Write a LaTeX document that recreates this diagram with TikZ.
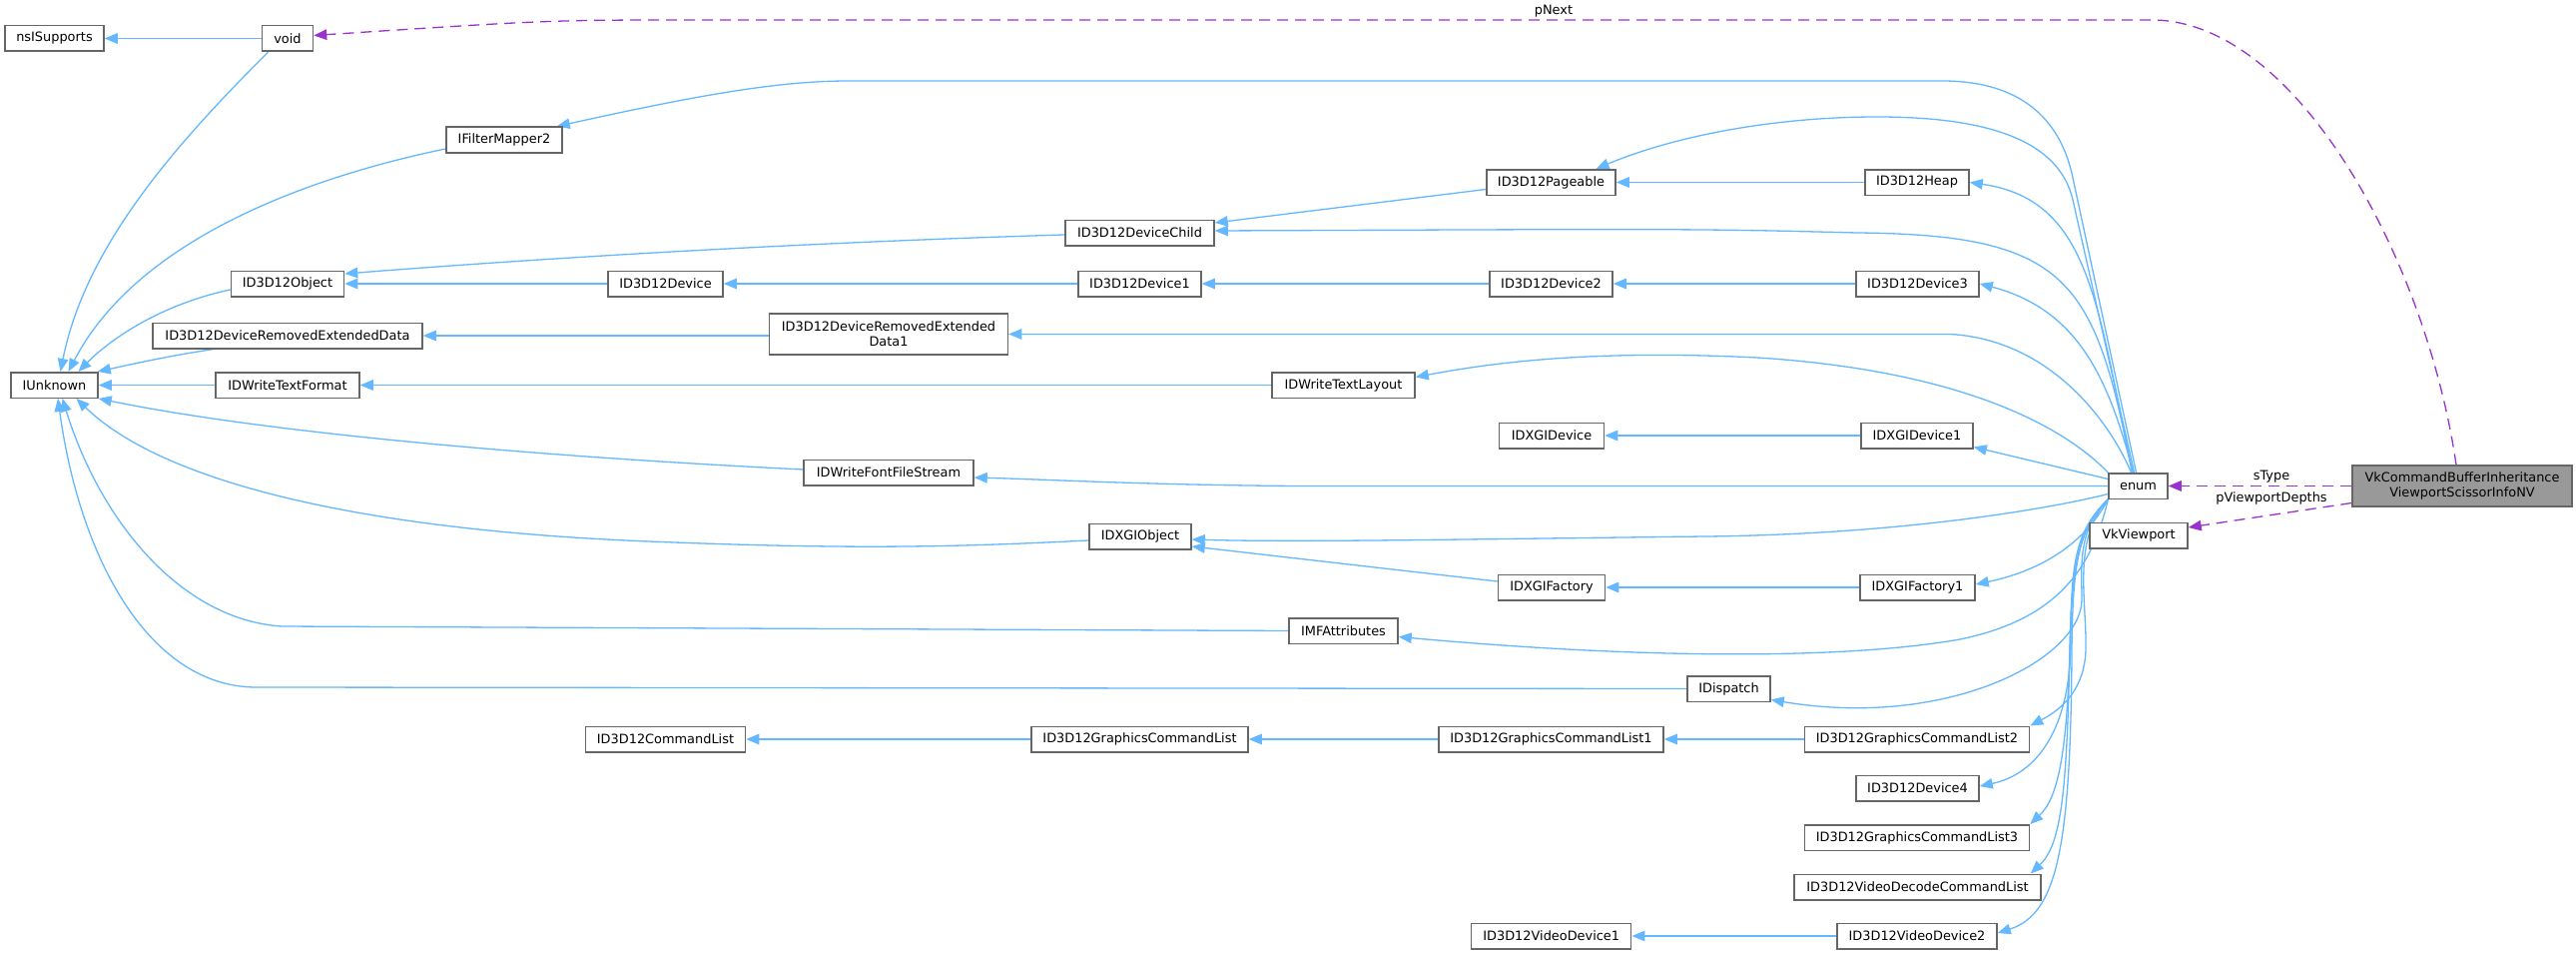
\documentclass[tikz,border=0pt]{standalone}
\usepackage{fontspec}
\setmainfont{DejaVu Sans}
\usetikzlibrary{arrows.meta,calc}
\pgfdeclarelayer{bg}
\pgfsetlayers{bg,main}
\definecolor{edgeblue}{HTML}{63B8FF}
\definecolor{edgepurple}{HTML}{9A32CD}
\definecolor{boxgray}{HTML}{666666}
\definecolor{fillgray}{HTML}{999999}
\newcommand\dxfont{\fontsize{12.9pt}{15pt}\selectfont}
\begin{document}
\begin{tikzpicture}[x=1pt,y=-1pt,
  box/.style={draw=boxgray, line width=1.5pt, fill=white, minimum height=25.5pt, inner sep=0pt, align=center, font=\dxfont},
  inh/.style={draw=edgeblue, line width=1.3pt, -{Triangle[length=13pt,width=10.5pt]}},
  mem/.style={draw=edgepurple, line width=1.3pt, dash pattern=on 11pt off 7pt, -{Triangle[length=13pt,width=10.5pt]}},
  lbl/.style={font=\dxfont, inner sep=0pt, anchor=base}
]
\useasboundingbox (0,0) rectangle (2580,955);
% nodes
\node[box, minimum width=99pt] (nsi) at (54.5,38.5) {nsISupports};
\node[box, minimum width=51pt] (void) at (288,38.5) {void};
\node[box, minimum width=116pt] (ifm) at (505,140) {IFilterMapper2};
\node[box, minimum width=113pt] (obj) at (288,284) {ID3D12Object};
\node[box, minimum width=270pt] (dred) at (288,336) {ID3D12DeviceRemovedExtendedData};
\node[box, minimum width=87pt] (iunk) at (54.5,385.5) {IUnknown};
\node[box, minimum width=144pt] (dwtf) at (288,385.5) {IDWriteTextFormat};
\node[box, minimum width=149pt] (dchild) at (1141.5,233) {ID3D12DeviceChild};
\node[box, minimum width=115pt] (dev) at (666.5,284) {ID3D12Device};
\node[box, minimum width=123pt] (dev1) at (1141.5,284) {ID3D12Device1};
\node[box, minimum width=239pt, minimum height=41pt] (dred1) at (890,334.5) {ID3D12DeviceRemovedExtended\\Data1};
\node[box, minimum width=143pt] (dwtl) at (1345.5,385.5) {IDWriteTextLayout};
\node[box, minimum width=170pt] (dwffs) at (890,473) {IDWriteFontFileStream};
\node[box, minimum width=102pt] (dxgio) at (1142,537) {IDXGIObject};
\node[box, minimum width=160pt] (cl) at (666.5,740) {ID3D12CommandList};
\node[box, minimum width=217pt] (gcl) at (1141.5,740) {ID3D12GraphicsCommandList};
\node[box, minimum width=109pt] (mfa) at (1345.5,631.5) {IMFAttributes};
\node[box, minimum width=129pt] (page) at (1553.5,182.5) {ID3D12Pageable};
\node[box, minimum width=104pt] (heap) at (1920,182.5) {ID3D12Heap};
\node[box, minimum width=123pt] (dev2) at (1553.5,284) {ID3D12Device2};
\node[box, minimum width=123pt] (dev3) at (1920.5,284) {ID3D12Device3};
\node[box, minimum width=105pt] (dxgid) at (1554,436) {IDXGIDevice};
\node[box, minimum width=112pt] (dxgid1) at (1920,436) {IDXGIDevice1};
\node[box, minimum width=107pt] (dxgif) at (1554,588) {IDXGIFactory};
\node[box, minimum width=115pt] (dxgif1) at (1920.5,588) {IDXGIFactory1};
\node[box, minimum width=83pt] (disp) at (1731.5,689.5) {IDispatch};
\node[box, minimum width=225pt] (gcl1) at (1553.5,740) {ID3D12GraphicsCommandList1};
\node[box, minimum width=225pt] (gcl2) at (1920,740) {ID3D12GraphicsCommandList2};
\node[box, minimum width=123pt] (dev4) at (1920.5,789) {ID3D12Device4};
\node[box, minimum width=225pt] (gcl3) at (1920,838.5) {ID3D12GraphicsCommandList3};
\node[box, minimum width=247pt] (vdcl) at (1920.5,888) {ID3D12VideoDecodeCommandList};
\node[box, minimum width=160pt] (vd1) at (1553.7,937) {ID3D12VideoDevice1};
\node[box, minimum width=160pt] (vd2) at (1920,937) {ID3D12VideoDevice2};
\node[box, minimum width=59pt] (enum) at (2141.5,486.5) {enum};
\node[box, minimum width=98pt] (vkv) at (2142,536) {VkViewport};
\node[box, minimum width=220pt, minimum height=41pt, fill=fillgray] (vkcb) at (2466,486.5) {VkCommandBufferInheritance\\ViewportScissorInfoNV};
% labels
\node[lbl] (lpnext) at (1556,15) {pNext};
\node[lbl] (lstype) at (2275,480.5) {sType};
\node[lbl] (lpvd) at (2275,502.5) {pViewportDepths};
\begin{pgfonlayer}{bg}
\fill[white] (0,0) rectangle (2580,955);
% inheritance to IUnknown
\draw[inh] (void.west) -- (nsi.east);
\draw[inh] ($(void.south west)+(7,0)$) .. controls (170,150) and (85,250) .. ($(iunk.north)+(6,0)$);
\draw[inh] ($(ifm.west)+(0,9)$) .. controls (320,175) and (140,235) .. ($(iunk.north)+(14,0)$);
\draw[inh] ($(obj.west)+(0,6)$) .. controls (160,305) and (110,340) .. ($(iunk.north)+(24,0)$);
\draw[inh] ($(dred.south west)+(62,0)$) .. controls (170,356) and (130,365) .. ($(iunk.north east)+(-1,0)$);
\draw[inh] (dwtf.west) -- (iunk.east);
\draw[inh] ($(dwffs.west)+(0,-3)$) .. controls (500,455) and (250,430) .. (iunk.south east);
\draw[inh] ($(dxgio.west)+(0,4)$) .. controls (950,548) and (850,550) .. (650,542) .. controls (350,530) and (160,480) .. ($(iunk.south)+(22,0)$);
\draw[inh] (mfa.west) -- (282,627) .. controls (180,620) and (100,520) .. ($(iunk.south)+(8,0)$);
\draw[inh] (disp.west) -- (257,688) .. controls (150,688) and (80,560) .. ($(iunk.south)+(3.5,0)$);
% other inheritance
\draw[inh] ($(dchild.west)+(0,2)$) .. controls (800,243) and (550,258) .. ($(obj.east)+(0,-10)$);
\draw[inh] (dev.west) -- (obj.east);
\draw[inh] (dev1.west) -- (dev.east);
\draw[inh] (dev2.west) -- (dev1.east);
\draw[inh] (dev3.west) -- (dev2.east);
\draw[inh] ($(dred1.west)+(0,1.5)$) -- (dred.east);
\draw[inh] (dwtl.west) -- (dwtf.east);
\draw[inh] ($(page.west)+(0,7)$) -- ($(dchild.east)+(0,-10)$);
\draw[inh] (heap.west) -- (page.east);
\draw[inh] (dxgid1.west) -- (dxgid.east);
\draw[inh] ($(dxgif.west)+(0,-6)$) -- ($(dxgio.east)+(0,10)$);
\draw[inh] (dxgif1.west) -- (dxgif.east);
\draw[inh] (gcl.west) -- (cl.east);
\draw[inh] (gcl1.west) -- (gcl.east);
\draw[inh] (gcl2.west) -- (gcl1.east);
\draw[inh] (vd2.west) -- (vd1.east);
% enum edges (top)
\draw[inh] ($(enum.north)+(-2,0)$) -- (2076,178) .. controls (2065,125) and (2030,82) .. (1948,81) -- (850,81) .. controls (780,81) and (700,95) .. ($(ifm.north east)+(-6,0)$);
\draw[inh] ($(enum.north)+(-4,0)$) -- (2076,200) .. controls (2062,140) and (1990,117) .. (1880,117) .. controls (1780,117) and (1680,135) .. ($(page.north)+(45,0)$);
\draw[inh] ($(enum.north)+(-6,0)$) .. controls (2100,300) and (2092,200) .. (heap.east);
\draw[inh] ($(enum.north)+(-6,0)$) .. controls (2098,280) and (2072,235) .. (1860,233) .. controls (1700,229) .. ($(dchild.east)+(0,-2)$);
\draw[inh] ($(enum.north)+(-5,0)$) .. controls (2112,380) and (2082,310) .. (dev3.east);
\draw[inh] ($(enum.north)+(-7,0)$) .. controls (2112,420) and (2052,340) .. (1953,334.5) -- (dred1.east);
\draw[inh] (enum.north west) .. controls (2060,420) and (1950,370) .. (1760,358) .. controls (1600,350) and (1500,362) .. ($(dwtl.east)+(0,-8)$);
% enum edges (left)
\draw[inh] ($(enum.west)+(0,-7)$) -- ($(dxgid1.south east)+(0,-2)$);
\draw[inh] (enum.west) -- (1300,486.5) .. controls (1150,485.5) and (1050,480) .. ($(dwffs.east)+(0,5)$);
\draw[inh] ($(enum.west)+(0,8)$) .. controls (2050,510) and (1900,535) .. (1708,537) .. controls (1450,540) and (1300,543) .. ($(dxgio.east)+(0,3)$);
% enum edges (bottom)
\draw[inh] (enum.south west) .. controls (2090,540) and (2050,570) .. ($(dxgif1.east)+(0,-3)$);
\draw[inh] (enum.south west) .. controls (2095,570) and (2060,620) .. (1963,640) .. controls (1850,660) and (1650,660) .. ($(mfa.east)+(0,6)$);
\draw[inh] (enum.south west) .. controls (2080,530) and (2085,570) .. (2085,600) .. controls (2085,660) and (1950,730) .. ($(disp.east)+(0,11)$);
\draw[inh] (enum.south west) .. controls (2075,540) and (2090,600) .. (2089,650) .. controls (2088,690) and (2065,710) .. (gcl2.north east);
\draw[inh] (enum.south west) .. controls (2080,530) and (2074,560) .. (2074,640) .. controls (2074,730) and (2040,775) .. ($(dev4.east)+(0,-2)$);
\draw[inh] (enum.south west) .. controls (2080,530) and (2075,570) .. (2073,650) .. controls (2070,760) and (2060,800) .. (gcl3.north east);
\draw[inh] (enum.south west) .. controls (2080,530) and (2075,570) .. (2073,650) .. controls (2070,790) and (2065,845) .. ($(vdcl.north east)+(-11,0)$);
\draw[inh] (enum.south west) .. controls (2080,530) and (2076,570) .. (2075,650) .. controls (2074,850) and (2060,915) .. ($(vd2.east)+(0,-3)$);
% member edges
\draw[mem] ($(vkcb.north)+(-6,0)$) .. controls (2430,260) and (2300,20) .. (2155,20) -- (700,20) .. controls (550,20) .. ($(void.east)+(0,-3)$);
\draw[mem] (vkcb.west) -- (enum.east);
\draw[mem] ($(vkcb.west)+(0,17)$) -- ($(vkv.east)+(0,-8)$);
\end{pgfonlayer}
\end{tikzpicture}
\end{document}
